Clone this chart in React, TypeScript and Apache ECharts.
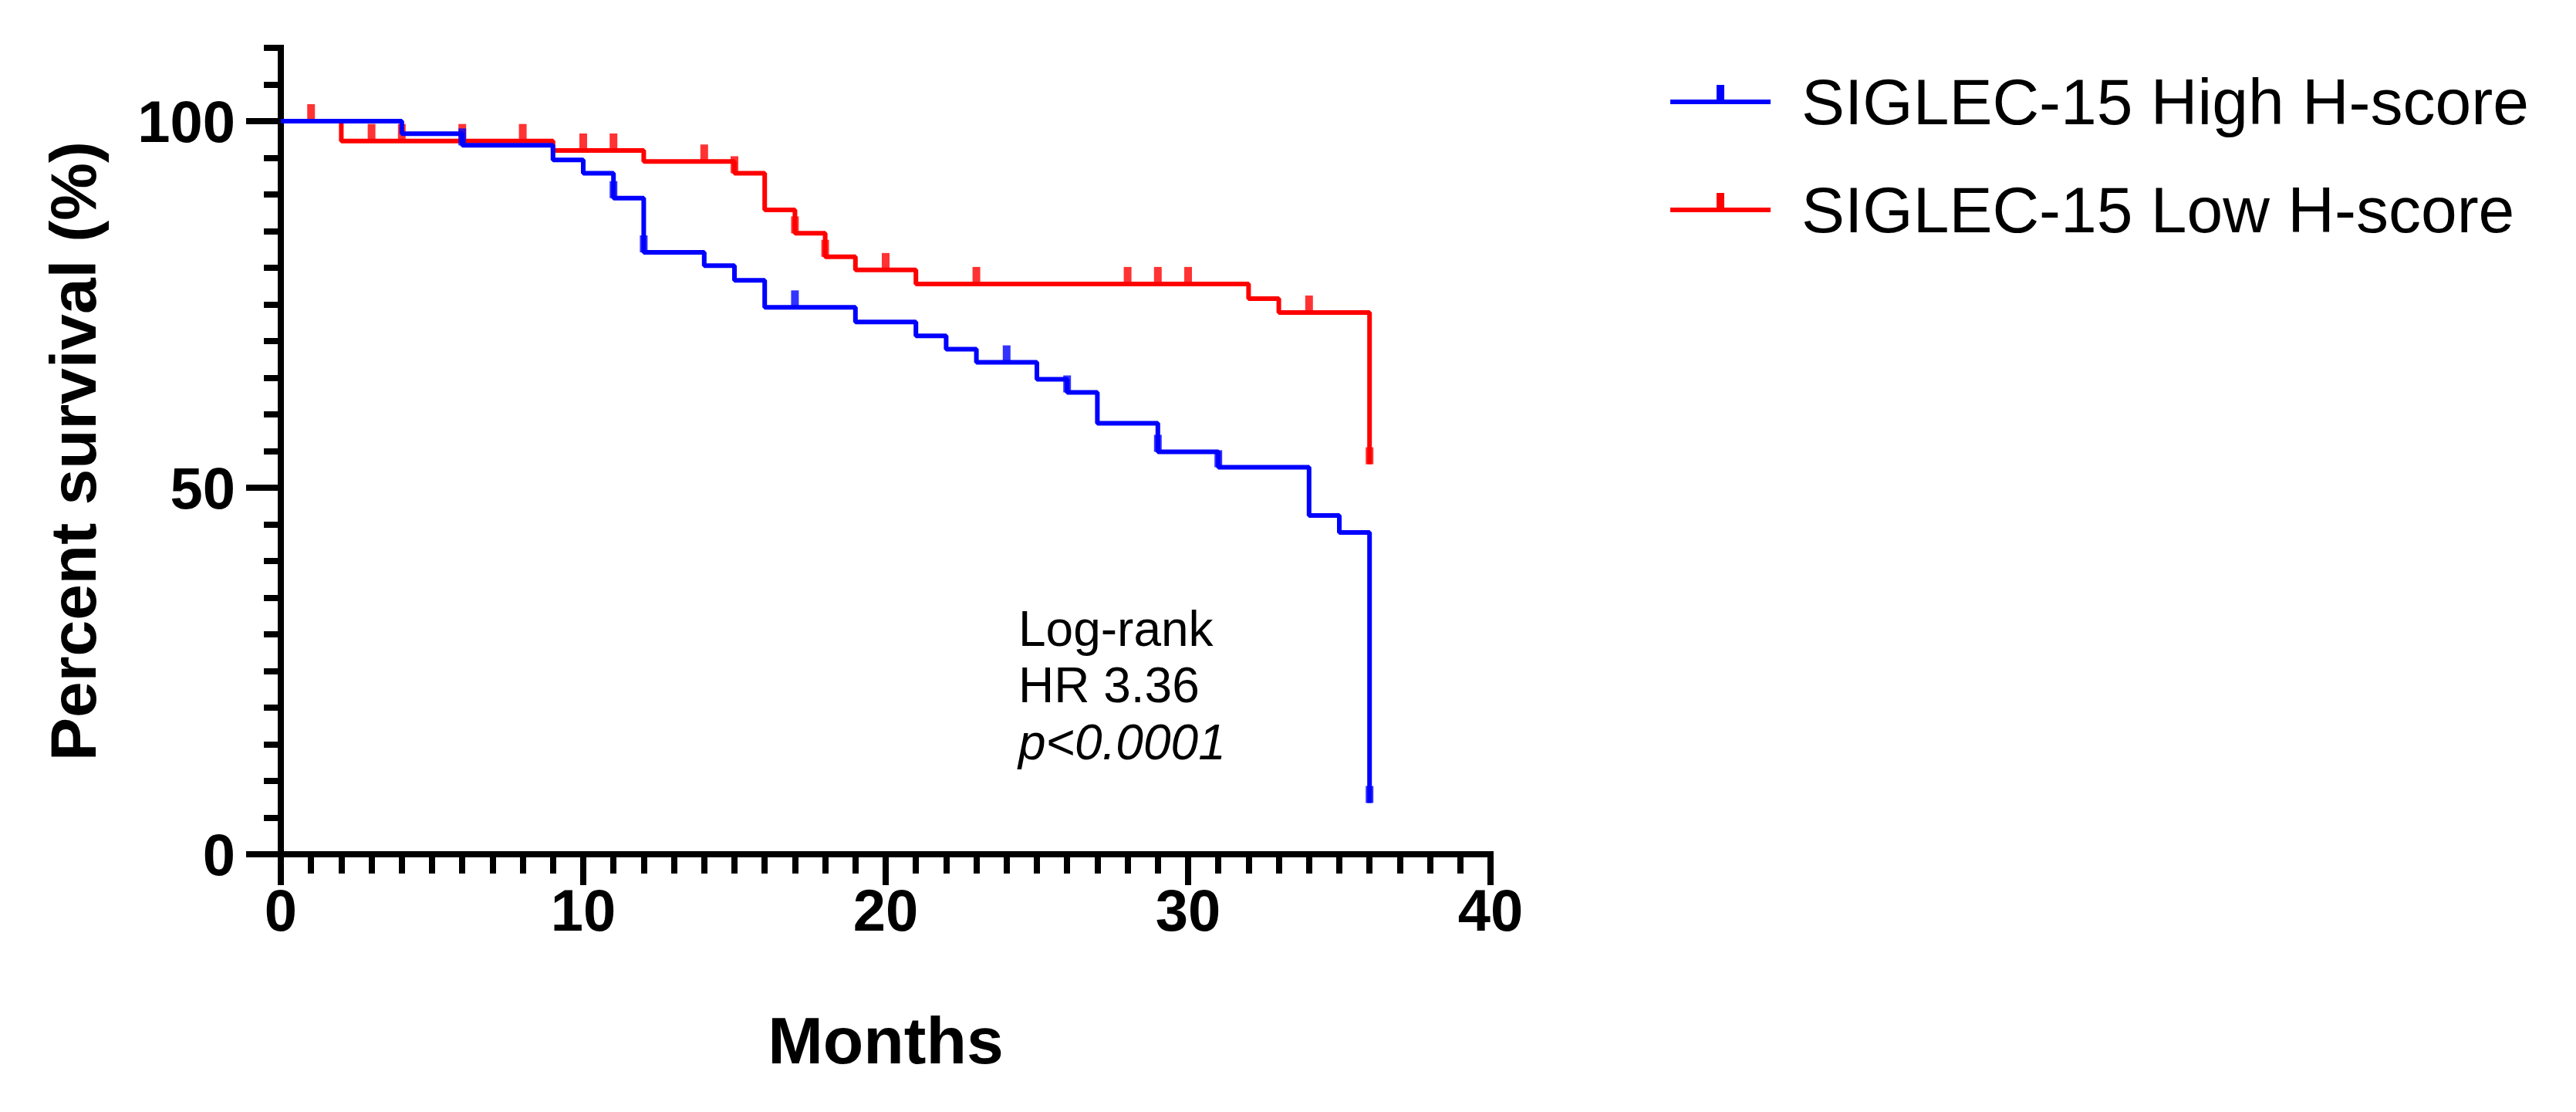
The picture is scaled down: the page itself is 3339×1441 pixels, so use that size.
import React, { useEffect, useRef } from "react";
import * as echarts from "echarts";

// ---------- data ----------
const xTickLabels = [0, 10, 20, 30, 40];
const yTickLabels = [0, 50, 100];

const seriesNames = ["SIGLEC-15 High H-score", "SIGLEC-15 Low H-score"];
const seriesColors = ["#0000FF", "#FF0000"];

// Kaplan-Meier steps: month of event -> survival (%) after the event
const highMonths = [0, 4, 6, 9, 10, 11, 12, 14, 15, 16, 19, 21, 22, 23, 25, 26, 27, 29, 31, 34, 35, 36];
const highSurvival = [100, 98.3, 96.7, 94.7, 92.9, 89.5, 82.1, 80.3, 78.3, 74.6, 72.6, 70.7, 68.9, 67.1, 64.8, 63.0, 58.8, 54.9, 52.8, 46.2, 43.9, 7];
const highCensorMonths = [6, 11, 12, 17, 24, 26, 29, 31, 36];

const lowMonths = [0, 2, 9, 12, 15, 16, 17, 18, 19, 21, 32, 33, 36];
const lowSurvival = [100, 97.3, 96.0, 94.5, 92.9, 87.9, 84.7, 81.5, 79.7, 77.8, 75.8, 73.9, 53.2];
const lowCensorMonths = [1, 3, 4, 6, 8, 10, 11, 14, 15, 17, 18, 20, 23, 28, 29, 30, 34, 36];

const annotationLines = ["Log-rank", "HR 3.36", "p<0.0001"];
const xTitle = "Months";
const yTitle = "Percent survival (%)";

const FONT = "'Liberation Sans', Arial, Helvetica, sans-serif";

function levelAt(months: number[], surv: number[], t: number): number {
  let v = surv[0];
  for (let i = 0; i < months.length; i++) {
    if (months[i] <= t) v = surv[i];
  }
  return v;
}

export default function App() {
  const ref = useRef<HTMLDivElement>(null);

  useEffect(() => {
    if (!ref.current) return;
    const chart = echarts.init(ref.current, null, { renderer: "svg" });

    const gridLeft = 364;
    const gridTop = 62;
    const gridW = 1568;
    const gridH = 1045;

    const lineData = (m: number[], s: number[]) => m.map((x, i) => [x, s[i]]);
    const censorData = (c: number[], m: number[], s: number[]) => c.map((x) => [x, levelAt(m, s, x)]);

    const legendRows = [132, 272];
    const legendGraphics: any[] = [];
    seriesNames.forEach((name, i) => {
      const cy = legendRows[i];
      legendGraphics.push({
        type: "rect",
        shape: { x: 2165, y: cy - 3, width: 130, height: 6 },
        style: { fill: seriesColors[i] },
      });
      legendGraphics.push({
        type: "rect",
        shape: { x: 2225, y: cy - 22, width: 10, height: 22 },
        style: { fill: seriesColors[i] },
      });
      legendGraphics.push({
        type: "text",
        x: 2335,
        y: cy,
        style: {
          text: name,
          font: `84px ${FONT}`,
          fill: "#000",
          verticalAlign: "middle",
          align: "left",
        },
      });
    });

    const annY = [815, 888, 962];
    const annGraphics = annotationLines.map((t, i) => ({
      type: "text",
      x: 1320,
      y: annY[i],
      style: {
        text: t,
        font: `${i === 2 ? "italic " : ""}64px ${FONT}`,
        fill: "#000",
        verticalAlign: "middle",
        align: "left",
      },
    }));

    const axisLineStyle = { color: "#000", width: 8, cap: "square" };

    chart.setOption({
      animation: false,
      backgroundColor: "#fff",
      grid: { left: gridLeft, top: gridTop, width: gridW, height: gridH, containLabel: false },
      xAxis: {
        type: "value",
        min: 0,
        max: 40,
        interval: 10,
        axisLine: { show: true, onZero: false, lineStyle: axisLineStyle },
        axisTick: { show: true, length: 40, lineStyle: { color: "#000", width: 8 } },
        minorTick: { show: true, splitNumber: 10, length: 25, lineStyle: { color: "#000", width: 8 } },
        axisLabel: {
          fontSize: 76,
          fontWeight: "bold",
          color: "#000",
          fontFamily: FONT,
          margin: 34,
          formatter: (v: number) => (xTickLabels.includes(v) ? String(v) : ""),
        },
        splitLine: { show: false },
        minorSplitLine: { show: false },
        name: xTitle,
        nameLocation: "middle",
        nameGap: 198,
        nameTextStyle: { fontSize: 86, fontWeight: "bold", color: "#000", fontFamily: FONT },
      },
      yAxis: [
        {
          type: "value",
          min: 0,
          max: 110,
          interval: 5,
          position: "left",
          axisLine: { show: true, onZero: false, lineStyle: axisLineStyle },
          axisTick: { show: true, length: 22, lineStyle: { color: "#000", width: 8 } },
          axisLabel: { show: false },
          splitLine: { show: false },
        },
        {
          type: "value",
          min: 0,
          max: 110,
          interval: 50,
          position: "left",
          offset: 0,
          axisLine: { show: false },
          axisTick: { show: true, length: 45, customValues: yTickLabels, lineStyle: { color: "#000", width: 8 } },
          axisLabel: {
            show: true,
            customValues: yTickLabels,
            fontSize: 76,
            fontWeight: "bold",
            color: "#000",
            fontFamily: FONT,
            margin: 59,
          },
          splitLine: { show: false },
          name: yTitle,
          nameLocation: "middle",
          nameGap: 227,
          nameRotate: 90,
          nameTextStyle: { fontSize: 84, fontWeight: "bold", color: "#000", fontFamily: FONT },
        },
      ],
      series: [
        {
          name: seriesNames[1],
          type: "line",
          step: "end",
          showSymbol: false,
          clip: false,
          z: 2,
          lineStyle: { color: seriesColors[1], width: 6 },
          data: lineData(lowMonths, lowSurvival),
        },
        {
          name: seriesNames[1] + " censored",
          type: "scatter",
          symbol: "rect",
          symbolSize: [10, 22],
          symbolOffset: [0, -11],
          clip: false,
          z: 3,
          itemStyle: { color: seriesColors[1] },
          data: censorData(lowCensorMonths, lowMonths, lowSurvival),
        },
        {
          name: seriesNames[0],
          type: "line",
          step: "end",
          showSymbol: false,
          clip: false,
          z: 4,
          lineStyle: { color: seriesColors[0], width: 6 },
          data: lineData(highMonths, highSurvival),
        },
        {
          name: seriesNames[0] + " censored",
          type: "scatter",
          symbol: "rect",
          symbolSize: [10, 22],
          symbolOffset: [0, -11],
          clip: false,
          z: 5,
          itemStyle: { color: seriesColors[0] },
          data: censorData(highCensorMonths, highMonths, highSurvival),
        },
      ],
      graphic: [...legendGraphics, ...annGraphics],
    });

    return () => chart.dispose();
  }, []);

  return (
    <div
      ref={ref}
      style={{ position: "absolute", left: 0, top: 0, width: 3339, height: 1441, background: "#fff" }}
    />
  );
}
